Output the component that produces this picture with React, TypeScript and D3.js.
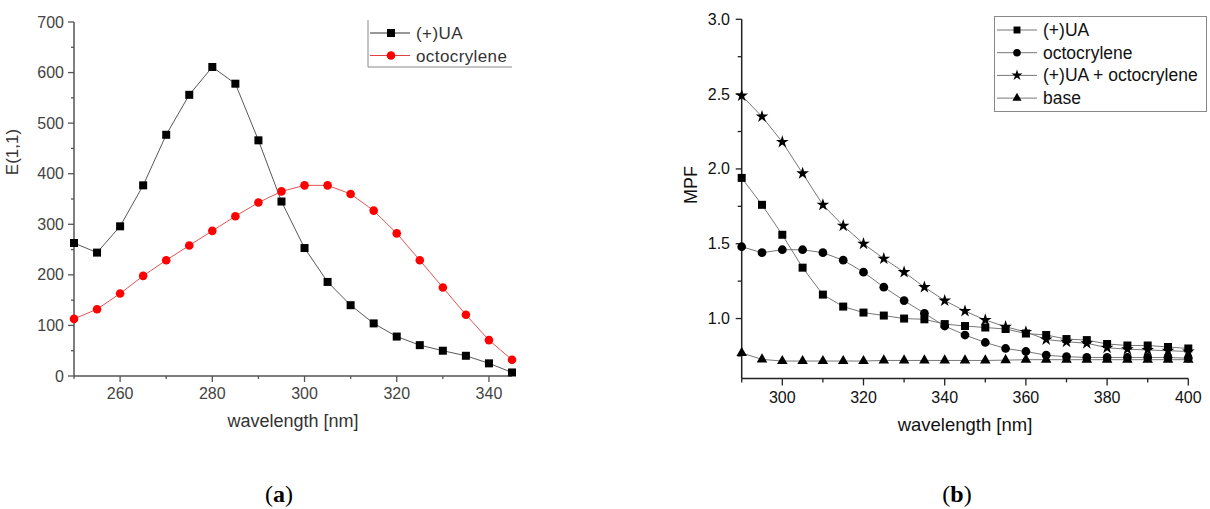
import React, { useEffect, useRef } from 'react';
import * as d3 from 'd3';

// ---- panel (a) data ----
const wavelengthA = [250, 255, 260, 265, 270, 275, 280, 285, 290, 295, 300, 305, 310, 315, 320, 325, 330, 335, 340, 345];
const uaA = [263, 244, 296, 377, 477, 556, 611, 578, 466, 345, 253, 186, 140, 104, 78, 61, 50, 40, 25, 7];
const octoA = [113, 132, 163, 198, 229, 258, 287, 316, 343, 365, 377, 377, 360, 327, 282, 229, 175, 121, 71, 32];
const yTicksA = [0, 100, 200, 300, 400, 500, 600, 700];
const xTicksA = [260, 280, 300, 320, 340];
const legendA = ['(+)UA', 'octocrylene'];

// ---- panel (b) data ----
const wavelengthB = [290, 295, 300, 305, 310, 315, 320, 325, 330, 335, 340, 345, 350, 355, 360, 365, 370, 375, 380, 385, 390, 395, 400];
const uaB = [1.94, 1.76, 1.56, 1.34, 1.16, 1.08, 1.04, 1.02, 1.0, 0.995, 0.963, 0.95, 0.94, 0.93, 0.9, 0.89, 0.863, 0.856, 0.83, 0.82, 0.82, 0.81, 0.8];
const octoB = [1.48, 1.44, 1.46, 1.46, 1.44, 1.39, 1.31, 1.21, 1.12, 1.035, 0.95, 0.89, 0.84, 0.8, 0.78, 0.755, 0.745, 0.74, 0.74, 0.74, 0.74, 0.74, 0.735];
const mixB = [2.49, 2.35, 2.18, 1.97, 1.76, 1.62, 1.5, 1.4, 1.31, 1.21, 1.12, 1.05, 0.99, 0.945, 0.91, 0.86, 0.845, 0.835, 0.805, 0.795, 0.79, 0.785, 0.78];
const baseB = [0.77, 0.727, 0.716, 0.716, 0.716, 0.716, 0.716, 0.72, 0.72, 0.72, 0.72, 0.72, 0.72, 0.722, 0.725, 0.725, 0.725, 0.725, 0.725, 0.725, 0.725, 0.725, 0.725];
const yTicksB = [1.0, 1.5, 2.0, 2.5, 3.0];
const xTicksB = [300, 320, 340, 360, 380, 400];
const legendB = ['(+)UA', 'octocrylene', '(+)UA + octocrylene', 'base'];

const FONT = 'Liberation Sans, Arial, sans-serif';

const App = () => {
  const ref = useRef<SVGSVGElement>(null);

  useEffect(() => {
    const svg = d3.select(ref.current);
    svg.selectAll('*').remove();
    drawPanelA(svg);
    drawPanelB(svg);

    // captions
    const cap = (x: number, letter: string) => {
      const t = svg.append('text').attr('x', x).attr('y', 502).attr('text-anchor', 'middle')
        .attr('font-family', 'Liberation Serif, serif').attr('font-size', 24).attr('fill', '#000');
      t.append('tspan').text('(');
      t.append('tspan').attr('font-weight', 'bold').text(letter);
      t.append('tspan').text(')');
    };
    cap(279, 'a');
    cap(957, 'b');
  }, []);

  const drawPanelA = (svg: any) => {
    const x = d3.scaleLinear().domain([250, 345]).range([74, 512]);
    const y = d3.scaleLinear().domain([0, 700]).range([376, 22]);
    const axisColor = '#555';
    const g = svg.append('g');

    // y axis
    g.append('line').attr('x1', 74).attr('x2', 74).attr('y1', y(700)).attr('y2', y(0))
      .attr('stroke', axisColor).attr('stroke-width', 1.5);
    d3.range(0, 701, 50).forEach((v) => {
      const major = v % 100 === 0;
      g.append('line').attr('x1', 74).attr('x2', 74 - (major ? 6 : 3)).attr('y1', y(v)).attr('y2', y(v))
        .attr('stroke', axisColor).attr('stroke-width', 1.3);
    });
    yTicksA.forEach((v) => {
      g.append('text').attr('x', 64).attr('y', y(v) + 5.5).attr('text-anchor', 'end')
        .attr('font-family', FONT).attr('font-size', 16).attr('fill', '#444').text(v);
    });

    // x axis
    g.append('line').attr('x1', x(250)).attr('x2', x(345)).attr('y1', 376).attr('y2', 376)
      .attr('stroke', axisColor).attr('stroke-width', 1.5);
    d3.range(250, 346, 10).forEach((v) => {
      const major = v % 20 === 0;
      g.append('line').attr('x1', x(v)).attr('x2', x(v)).attr('y1', 376).attr('y2', 376 + (major ? 6 : 3))
        .attr('stroke', axisColor).attr('stroke-width', 1.3);
    });
    xTicksA.forEach((v) => {
      g.append('text').attr('x', x(v)).attr('y', 399).attr('text-anchor', 'middle')
        .attr('font-family', FONT).attr('font-size', 16).attr('fill', '#444').text(v);
    });

    g.append('text').attr('x', 293).attr('y', 427).attr('text-anchor', 'middle')
      .attr('font-family', FONT).attr('font-size', 18).attr('fill', '#333').text('wavelength [nm]');
    g.append('text').attr('transform', 'translate(18,152) rotate(-90)').attr('text-anchor', 'middle')
      .attr('font-family', FONT).attr('font-size', 17).attr('fill', '#333').text('E(1,1)');

    const line = d3.line<number>().x((_, i) => x(wavelengthA[i])).y((d) => y(d));
    g.append('path').attr('d', line(octoA)).attr('fill', 'none').attr('stroke', '#e04040').attr('stroke-width', 0.9);
    g.append('path').attr('d', line(uaA)).attr('fill', 'none').attr('stroke', '#444').attr('stroke-width', 0.9);

    g.selectAll('.oc').data(octoA).enter().append('circle')
      .attr('cx', (_: any, i: number) => x(wavelengthA[i])).attr('cy', (d: number) => y(d)).attr('r', 4.3).attr('fill', '#f00');
    g.selectAll('.ua').data(uaA).enter().append('rect')
      .attr('x', (_: any, i: number) => x(wavelengthA[i]) - 4).attr('y', (d: number) => y(d) - 4)
      .attr('width', 8).attr('height', 8).attr('fill', '#000');

    // legend (left + bottom border only)
    g.append('path').attr('d', 'M368,20 V67 H512').attr('fill', 'none').attr('stroke', '#888').attr('stroke-width', 1);
    legendA.forEach((name, i) => {
      const ly = 33 + i * 22.5;
      const red = i === 1;
      g.append('line').attr('x1', 370).attr('x2', 410).attr('y1', ly).attr('y2', ly)
        .attr('stroke', red ? '#e04040' : '#333').attr('stroke-width', 1);
      if (red) g.append('circle').attr('cx', 391).attr('cy', ly).attr('r', 4.3).attr('fill', '#f00');
      else g.append('rect').attr('x', 387).attr('y', ly - 4).attr('width', 8).attr('height', 8).attr('fill', '#000');
      g.append('text').attr('x', 416).attr('y', ly + 6).attr('font-family', FONT).attr('font-size', 17)
        .attr('letter-spacing', 0.4).attr('fill', '#333').text(name);
    });
  };

  const drawPanelB = (svg: any) => {
    const x = d3.scaleLinear().domain([290, 400]).range([741.7, 1188.3]);
    const y = d3.scaleLinear().domain([0.6, 3.0]).range([378.4, 19.3]);
    const axisColor = '#222';
    const g = svg.append('g');

    g.append('line').attr('x1', x(290)).attr('x2', x(290)).attr('y1', y(3.0)).attr('y2', y(0.6))
      .attr('stroke', axisColor).attr('stroke-width', 1.5);
    d3.range(0.75, 3.01, 0.25).forEach((v) => {
      const major = Math.abs(v * 2 - Math.round(v * 2)) < 1e-6;
      g.append('line').attr('x1', x(290)).attr('x2', x(290) - (major ? 6 : 4)).attr('y1', y(v)).attr('y2', y(v))
        .attr('stroke', axisColor).attr('stroke-width', 1.3);
    });
    yTicksB.forEach((v) => {
      g.append('text').attr('x', 730).attr('y', y(v) + 5.5).attr('text-anchor', 'end')
        .attr('font-family', FONT).attr('font-size', 16).attr('fill', '#111').text(v.toFixed(1));
    });

    g.append('line').attr('x1', x(290)).attr('x2', x(400)).attr('y1', y(0.6)).attr('y2', y(0.6))
      .attr('stroke', axisColor).attr('stroke-width', 1.5);
    d3.range(290, 401, 10).forEach((v) => {
      const major = v % 20 === 0;
      g.append('line').attr('x1', x(v)).attr('x2', x(v)).attr('y1', y(0.6)).attr('y2', y(0.6) + (major ? 7 : 4))
        .attr('stroke', axisColor).attr('stroke-width', 1.3);
    });
    xTicksB.forEach((v) => {
      g.append('text').attr('x', x(v)).attr('y', 403).attr('text-anchor', 'middle')
        .attr('font-family', FONT).attr('font-size', 16).attr('fill', '#111').text(v);
    });

    g.append('text').attr('x', 965).attr('y', 431).attr('text-anchor', 'middle')
      .attr('font-family', FONT).attr('font-size', 18.5).attr('fill', '#111').text('wavelength [nm]');
    g.append('text').attr('transform', 'translate(697,185) rotate(-90)').attr('text-anchor', 'middle')
      .attr('font-family', FONT).attr('font-size', 18).attr('fill', '#111').text('MPF');

    const series = [
      { values: uaB, sym: d3.symbolSquare, size: 64 },
      { values: octoB, sym: d3.symbolCircle, size: 60 },
      { values: mixB, sym: d3.symbolStar, size: 50 },
      { values: baseB, sym: d3.symbolTriangle, size: 48 },
    ];
    const line = d3.line<number>().x((_, i) => x(wavelengthB[i])).y((d) => y(d));
    series.forEach((s) => {
      g.append('path').attr('d', line(s.values)).attr('fill', 'none').attr('stroke', '#777').attr('stroke-width', 1);
    });
    series.forEach((s) => {
      const shape = d3.symbol().type(s.sym).size(s.size);
      s.values.forEach((v, i) => {
        g.append('path').attr('d', shape()).attr('transform', `translate(${x(wavelengthB[i])},${y(v)})`).attr('fill', '#000');
      });
    });

    // legend box
    g.append('rect').attr('x', 994.5).attr('y', 16.5).attr('width', 212).attr('height', 95)
      .attr('fill', '#fff').attr('stroke', '#888').attr('stroke-width', 1);
    legendB.forEach((name, i) => {
      const ly = 30 + i * 22.7;
      g.append('line').attr('x1', 997).attr('x2', 1037).attr('y1', ly).attr('y2', ly).attr('stroke', '#777').attr('stroke-width', 1);
      const shape = d3.symbol().type(series[i].sym).size(series[i].size * 0.75);
      g.append('path').attr('d', shape()).attr('transform', `translate(1017,${ly})`).attr('fill', '#000');
      g.append('text').attr('x', 1043).attr('y', ly + 6).attr('font-family', FONT).attr('font-size', 17.5)
        .attr('fill', '#111').text(name);
    });
  };

  return (
    <svg ref={ref} width={1210} height={509} style={{ position: 'absolute', left: 0, top: 0, background: '#fff' }} />
  );
};

export default App;
